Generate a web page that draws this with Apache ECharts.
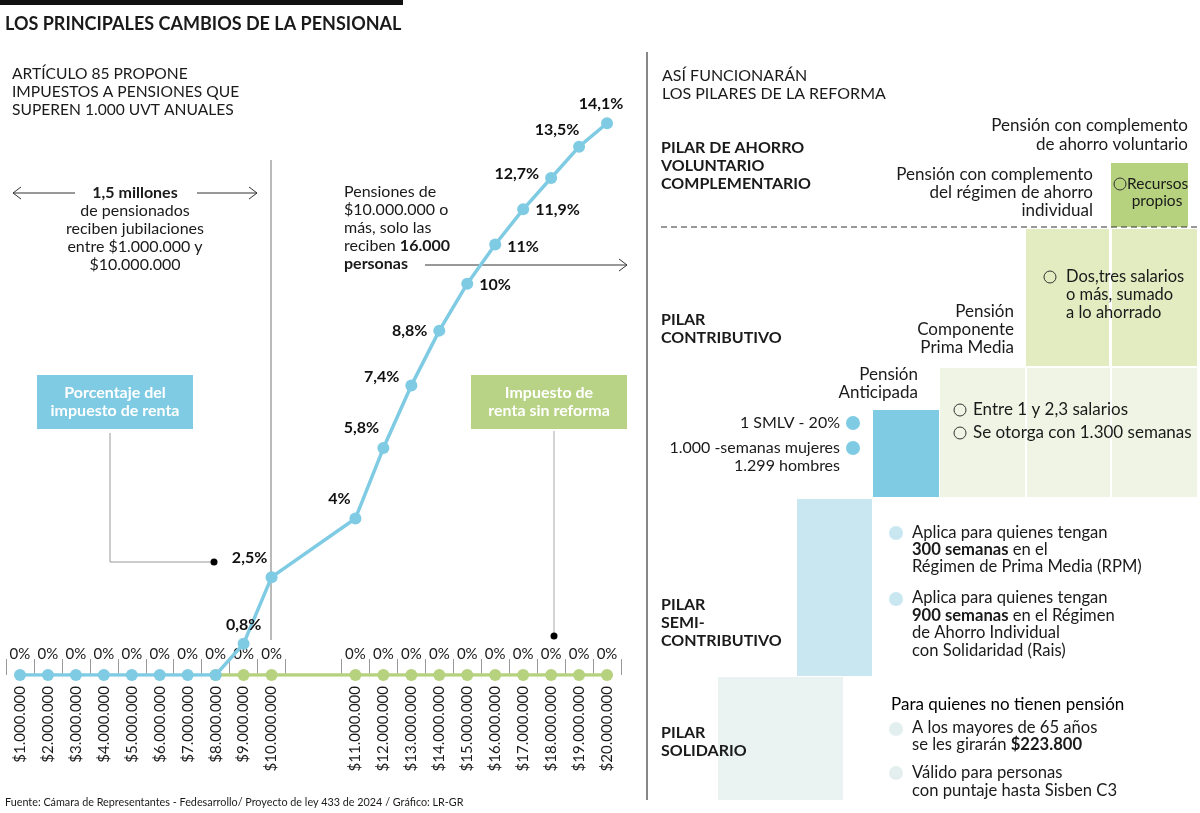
<!DOCTYPE html>
<html>
<head>
<meta charset="utf-8">
<script src="https://cdn.jsdelivr.net/npm/echarts@6.0.0/dist/echarts.min.js"></script>
<style>
html,body{margin:0;padding:0;background:#fff;}
#c{width:1200px;height:813px;}
</style>
</head>
<body>
<div id="c"></div>
<script>
// ---------- DATA ----------
const categories = ['$1.000.000','$2.000.000','$3.000.000','$4.000.000','$5.000.000','$6.000.000','$7.000.000','$8.000.000','$9.000.000','$10.000.000','','','$11.000.000','$12.000.000','$13.000.000','$14.000.000','$15.000.000','$16.000.000','$17.000.000','$18.000.000','$19.000.000','$20.000.000'];
const taxWithReform = [0,0,0,0,0,0,0,0,0.8,2.5,null,null,4,5.8,7.4,8.8,10,11,11.9,12.7,13.5,14.1];
const taxWithoutReform = [null,null,null,null,null,null,null,0,0,0,null,null,0,0,0,0,0,0,0,0,0,0];

// ---------- STYLE ----------
const FONT = 'Lato, "Open Sans", sans-serif';
const BLUE = '#7FCBE3';
const GREEN = '#B6D27F';
const INK = '#1a1a1a';

function fmt(v){ return String(v).replace('.', ',') + '%'; }

// label placement for non-zero points of the reform series (by category index)
const placement = {
  8:{position:'top', offset:[0,1]},
  9:{position:'top', offset:[-22,1]},
  12:{position:'top', offset:[-16,0]},
  13:{position:'top', offset:[-22,0]},
  14:{position:'left', offset:[0,-9]},
  15:{position:'left', offset:[0,0]},
  16:{position:'right', offset:[0,1]},
  17:{position:'right', offset:[0,2]},
  18:{position:'right', offset:[0,1]},
  19:{position:'left', offset:[0,-4]},
  20:{position:'top', offset:[-22,3]},
  21:{position:'top', offset:[-6,1]}
};
const zeroLabel = {show:true, position:'top', offset:[0,-2], formatter:'0%', fontSize:15, color:INK, fontFamily:FONT, fontWeight:'normal'};

const reformData = taxWithReform.map((v,i)=>{
  if (v === null) return '-';
  if (v === 0) return {value:v, label:zeroLabel};
  const p = placement[i] || {position:'top'};
  return {value:v, label:{show:true, position:p.position, offset:p.offset, distance:6, formatter:fmt(v), fontSize:16, fontWeight:'bold', color:'#111', fontFamily:FONT}};
});
const noReformData = taxWithoutReform.map((v,i)=>{
  if (v === null) return '-';
  const hide = taxWithReform[i] === 0; // shared point drawn by the reform series
  return {value:v, label: hide ? {show:false} : zeroLabel};
});

// ---------- GRAPHICS ----------
function txt(x, yc, text, o){
  o = o || {};
  const fs = o.fs || 16, lh = o.lh || 18;
  const st = {text:text, x:0, y:0, align:o.align||'left', verticalAlign:'top', fontSize:fs, lineHeight:lh,
    fontFamily:FONT, fontWeight:o.fw||'normal', fill:o.fill||INK};
  st.rich = {b:{fontWeight:'bold', fontSize:fs, lineHeight:lh, fontFamily:FONT, fill:o.fill||INK}};
  return {type:'text', x:x, y:yc - lh/2, z:50, style:st, silent:true};
}
function rect(x,y,w,h,fill,z){ return {type:'rect', shape:{x:x,y:y,width:w,height:h}, style:{fill:fill}, z:z||1, silent:true}; }
function line(x1,y1,x2,y2,stroke,extra){ return {type:'line', shape:{x1:x1,y1:y1,x2:x2,y2:y2}, style:Object.assign({stroke:stroke||'#333', lineWidth:1}, extra||{}), z:2, silent:true}; }
function poly(pts,stroke){ return {type:'polyline', shape:{points:pts}, style:{stroke:stroke||'#333', lineWidth:1, fill:null}, z:2, silent:true}; }
function dot(x,y,r,fill){ return {type:'circle', shape:{cx:x,cy:y,r:r}, style:{fill:fill}, z:3, silent:true}; }
function ring(x,y){ return {type:'circle', shape:{cx:x,cy:y,r:6}, style:{fill:null, stroke:'#333', lineWidth:1}, z:3, silent:true}; }

const graphics = [
  // header
  rect(0,0,403,5,'#111'),
  txt(5,24,'LOS PRINCIPALES CAMBIOS DE LA PENSIONAL',{fs:18,fw:'bold',lh:22}),
  txt(12,74,'ARTÍCULO 85 PROPONE\nIMPUESTOS A PENSIONES QUE\nSUPEREN 1.000 UVT ANUALES',{fs:15.6,lh:18}),
  // left annotations
  line(271,160,271,640,'#777'),
  line(13,193,75,193,'#333'), poly([[21,187],[13,193],[21,199]]),
  line(197,193,257,193,'#333'), poly([[249,187],[257,193],[249,199]]),
  txt(135,193,'{b|1,5 millones}\nde pensionados\nreciben jubilaciones\nentre $1.000.000 y\n$10.000.000',{fs:16,lh:18,align:'center'}),
  txt(344,192,'Pensiones de\n$10.000.000 o\nmás, solo las\nreciben {b|16.000}\n{b|personas}',{fs:16,lh:18}),
  line(425,265,627,265,'#333'), poly([[619,259],[627,265],[619,271]]),
  rect(37,375,156,54,BLUE),
  txt(115,393,'Porcentaje del\nimpuesto de renta',{fs:16,lh:18,fw:'bold',fill:'#fff',align:'center'}),
  poly([[110,433],[110,562],[213,562]],'#999'), dot(214,562,3.5,'#000'),
  rect(471,375,156,54,'#B8D385'),
  txt(549,393,'Impuesto de\nrenta sin reforma',{fs:16,lh:18,fw:'bold',fill:'#fff',align:'center'}),
  line(554,431,554,636,'#aaa'), dot(554,636,3.5,'#000'),
  txt(5,803,'Fuente: Cámara de Representantes - Fedesarrollo/ Proyecto de ley 433 de 2024 / Gráfico: LR-GR',{fs:10.8,lh:13}),
  // separator
  line(647,52,647,800,'#111'),
  // right panel
  txt(662,76,'ASÍ FUNCIONARÁN\nLOS PILARES DE LA REFORMA',{fs:16,lh:18}),
  txt(661,148,'PILAR DE AHORRO\nVOLUNTARIO\nCOMPLEMENTARIO',{fs:16,lh:18,fw:'bold'}),
  txt(1188,126,'Pensión con complemento\nde ahorro voluntario',{fs:17,lh:19,align:'right'}),
  txt(1093,175,'Pensión con complemento\ndel régimen de ahorro\nindividual',{fs:17,lh:18,align:'right'}),
  rect(1111,163,77,64,GREEN),
  ring(1120,184),
  txt(1127,184,'Recursos',{fs:15.5,lh:18}),
  txt(1157,201,'propios',{fs:15.5,lh:18,align:'center'}),
  line(661,227,1197,227,'#333',{lineDash:[6,4]}),
  rect(1026,229,171,137,'#E3EBC1'),
  rect(1109,229,3,137,'#fff',1.5),
  txt(1014,312,'Pensión\nComponente\nPrima Media',{fs:17,lh:18,align:'right'}),
  ring(1050,277),
  txt(1066,277,'Dos,tres salarios\no más, sumado\na lo ahorrado',{fs:16.5,lh:18}),
  txt(661,320,'PILAR\nCONTRIBUTIVO',{fs:16,lh:18,fw:'bold'}),
  rect(940,368,257,129,'#EFF4E4'),
  rect(1025,368,2,129,'#fff',1.5),
  rect(1110,368,2,129,'#fff',1.5),
  rect(873,410,66,87,BLUE),
  txt(918,375,'Pensión\nAnticipada',{fs:17,lh:18,align:'right'}),
  txt(840,423,'1 SMLV - 20%',{fs:16,lh:18,align:'right'}), dot(853,423,7,BLUE),
  txt(840,448,'1.000 -semanas mujeres\n1.299 hombres',{fs:16,lh:18,align:'right'}), dot(853,448,7,BLUE),
  ring(960,410), txt(973,410,'Entre 1 y 2,3 salarios',{fs:17,lh:18}),
  ring(960,433), txt(973,433,'Se otorga con 1.300 semanas',{fs:17,lh:18}),
  rect(797,499,75,177,'#C8E7F1'),
  dot(896,533,7,'#C8E7F1'),
  txt(912,533,'Aplica para quienes tengan\n{b|300 semanas} en el\nRégimen de Prima Media (RPM)',{fs:16.6,lh:17}),
  dot(896,599,7,'#C8E7F1'),
  txt(912,598,'Aplica para quienes tengan\n{b|900 semanas} en el Régimen\nde Ahorro Individual\ncon Solidaridad (Rais)',{fs:16.6,lh:17.5}),
  txt(661,605,'PILAR\nSEMI-\nCONTRIBUTIVO',{fs:16,lh:18,fw:'bold'}),
  rect(718,677,125,123,'#EAF3F2'),
  txt(891,705,'Para quienes no tienen pensión',{fs:17,lh:19,fill:'#000'}),
  dot(896,729,7,'#E3EFEE'),
  txt(912,728,'A los mayores de 65 años\nse les girarán {b|$223.800}',{fs:16.6,lh:17}),
  dot(896,773,7,'#E3EFEE'),
  txt(912,773,'Válido para personas\ncon puntaje hasta Sisben C3',{fs:16.6,lh:18}),
  txt(661,733,'PILAR\nSOLIDARIO',{fs:16,lh:18,fw:'bold'})
];

const chart = echarts.init(document.getElementById('c'), null, {renderer:'canvas'});
chart.setOption({
  animation:false,
  backgroundColor:'#fff',
  textStyle:{fontFamily:FONT},
  grid:{left:6, width:615, top:88, height:587, containLabel:false},
  xAxis:{
    type:'category', data:categories, boundaryGap:true,
    axisLine:{show:false},
    axisTick:{show:true, inside:true, length:16, interval:function(i){ return i !== 11; }, lineStyle:{color:'#9a9a9a', width:1}},
    axisLabel:{rotate:90, interval:0, fontSize:15, color:INK, margin:11, fontFamily:FONT},
    splitLine:{show:false}
  },
  yAxis:{type:'value', min:0, max:15, show:false, splitLine:{show:false}},
  series:[
    {name:'Impuesto de renta sin reforma', type:'line', data:noReformData, connectNulls:true,
     symbol:'circle', symbolSize:12, lineStyle:{width:3.5, color:GREEN}, itemStyle:{color:GREEN}, z:3},
    {name:'Porcentaje del impuesto de renta', type:'line', data:reformData, connectNulls:true,
     symbol:'circle', symbolSize:12, lineStyle:{width:3.5, color:BLUE}, itemStyle:{color:BLUE}, z:4}
  ],
  graphic:graphics
});
</script>
</body>
</html>
